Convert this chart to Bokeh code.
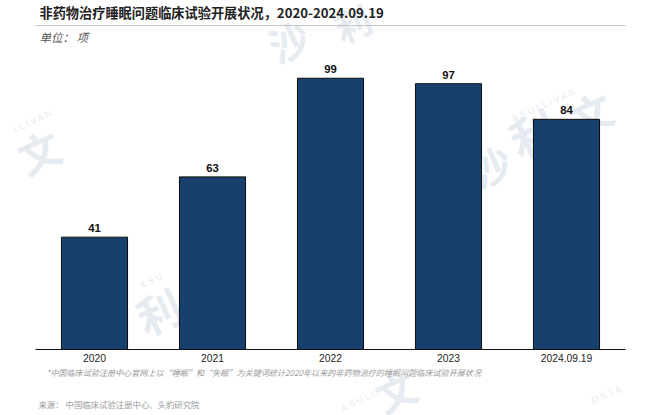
from bokeh.plotting import figure
from bokeh.models import Label, ColumnDataSource, LabelSet, FactorRange
from bokeh.core.properties import value
from bokeh.embed import file_html
from bokeh.resources import INLINE

categories = ["2020", "2021", "2022", "2023", "2024.09.19"]
values = [41, 63, 99, 97, 84]
labels = [str(v) for v in values]
title_text = "非药物治疗睡眠问题临床试验开展状况，2020-2024.09.19"
unit_text = "单位： 项"
note_text = "*中国临床试验注册中心官网上以“睡眠”和“失眠”为关键词统计2020年以来的非药物治疗的睡眠问题临床试验开展状况"
source_text = "来源： 中国临床试验注册中心、头豹研究院"

CJK = "Noto Sans CJK SC"
BAR = "#17406d"
W, H = 660, 415
BASE_Y = 349          # page row of the zero line
PX_PER_UNIT = 2.74
PX_PER_CAT = 118
SIDE = 35

x_range = FactorRange(factors=categories, range_padding=SIDE / PX_PER_CAT, range_padding_units="absolute")
p = figure(x_range=x_range, y_range=(-(H - BASE_Y) / PX_PER_UNIT, BASE_Y / PX_PER_UNIT), width=W, height=H,
           output_backend="svg", toolbar_location=None,
           min_border_left=0, min_border_right=0, min_border_top=0, min_border_bottom=0)
p.outline_line_color = None
p.background_fill_color = "white"
p.border_fill_color = "white"
p.xgrid.visible = False
p.ygrid.visible = False
p.yaxis.visible = False
p.xaxis.fixed_location = 0
p.xaxis.axis_line_color = None
p.xaxis.major_tick_line_color = None
p.xaxis.minor_tick_line_color = None
p.xaxis.major_tick_out = 0
p.xaxis.major_tick_in = 0
p.xaxis.major_label_text_font = "Liberation Sans"
p.xaxis.major_label_text_font_size = "10.3px"
p.xaxis.major_label_text_color = "#222222"
p.xaxis.major_label_standoff = 4

src = ColumnDataSource(dict(cat=categories, val=values, lab=labels))

WM = "#e6ebf2"
def wm(txt, x, y, size, font=CJK, style="bold"):
    p.add_layout(Label(x=x, y=H - y, x_units="screen", y_units="screen", text=txt, angle=0.42,
                       text_align="center", text_baseline="middle",
                       text_font=font, text_font_size=f"{size}px", text_font_style=style,
                       text_color=WM, level="underlay"))

for t, x, y, size in [
    ("沙", 288, 40, 40), ("利", 352, 22, 36), ("文", 38, 150, 42),
    ("利", 158, 310, 44), ("沙", 490, 165, 40), ("利", 532, 132, 46),
    ("文", 590, 112, 42), ("文", 395, 390, 40),
]:
    wm(t, x, y, size)
for t, x, y, size in [
    ("L  L  I  V  A  N", 38, 118, 9), ("&   S   U   L   L   I   V   A   N", 562, 96, 9),
    ("&   S   U", 155, 278, 9), ("&   S   U   L   L   I", 372, 394, 9),
    ("O   S   T     &", 615, 390, 9),
]:
    wm(t, x, y, size, font="Liberation Sans", style="normal")

p.vbar(x="cat", top="val", width=0.56, source=src, fill_color=BAR, line_color="#0c0c0c", line_width=1)
p.add_layout(LabelSet(x="cat", y="val", text="lab", source=src, text_align="center", text_baseline="bottom",
                      y_offset=5, text_font=value("Liberation Sans"), text_font_size=value("11.3px"),
                      text_font_style="bold", text_color="#111111"))

# baseline and the rule under the title, both spanning the five category slots
p.line(x=[0, len(categories)], y=[0, 0], line_color="#111111", line_width=1.2)
rule_y = (BASE_Y - 25) / PX_PER_UNIT
p.line(x=[0, len(categories)], y=[rule_y, rule_y], line_color="#c4c4c4", line_width=1)

def txt(text, x, y, size, color, style="normal"):
    p.add_layout(Label(x=x, y=H - y, x_units="screen", y_units="screen", text=text, text_baseline="middle",
                       text_font=CJK, text_font_size=f"{size}px", text_font_style=style, text_color=color))

txt(title_text, 39, 12, 13.2, "#222222", "bold")
txt(unit_text, 39, 36, 11.5, "#555555", "italic")
txt(note_text, 46, 372, 8.1, "#999999", "italic")
txt(source_text, 38, 403, 8.4, "#999999")

open("out.html", "w").write(file_html(p, INLINE))
